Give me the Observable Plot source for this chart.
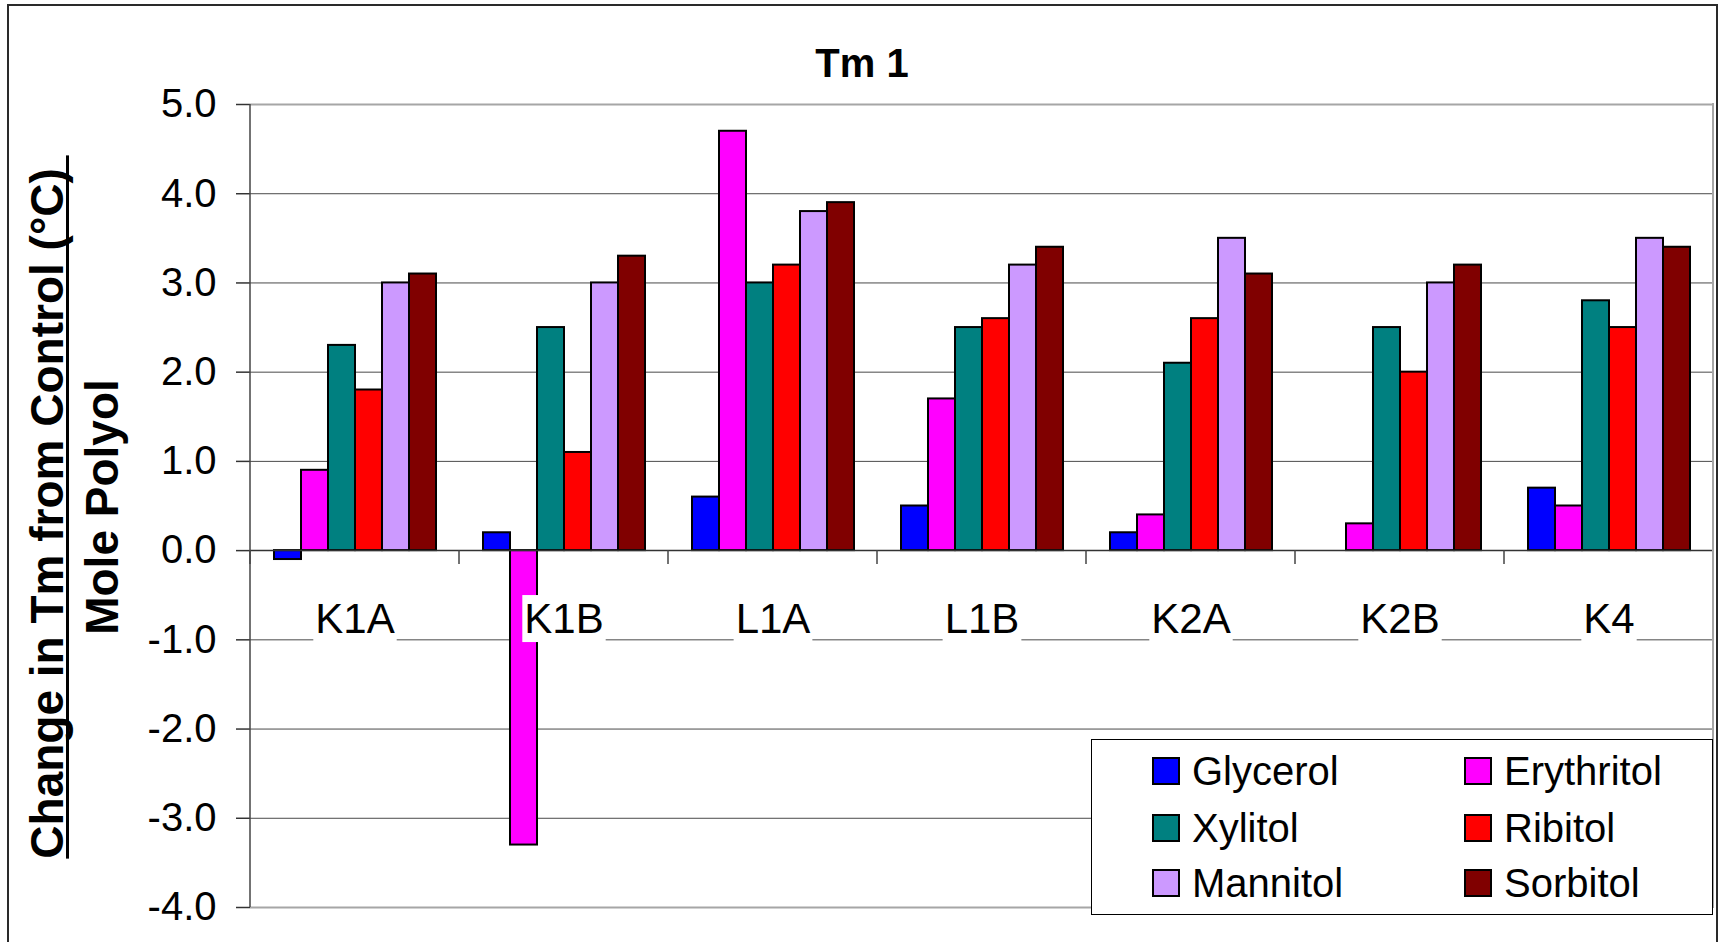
<!DOCTYPE html>
<html>
<head>
<meta charset="utf-8">
<script src="https://cdn.jsdelivr.net/npm/d3@7"></script>
<script src="https://cdn.jsdelivr.net/npm/@observablehq/plot@0.6"></script>
<style>
  html, body { margin: 0; padding: 0; background: #fff; overflow: hidden; width: 1719px; height: 942px; }
  #root { position: relative; width: 1719px; height: 942px; font-family: "Liberation Sans", Arial, sans-serif; color: #000; }
  #chart { position: absolute; left: 0; top: 0; }
  #frame { position: absolute; left: 7px; top: 4px; width: 1711px; height: 1000px; border: 2px solid #2a2a2a; box-sizing: border-box; pointer-events: none; }
  #title { position: absolute; left: 862px; top: 43px; transform: translateX(-50%); font-weight: bold; font-size: 40px; line-height: 40px; white-space: nowrap; }
  .ytitle { position: absolute; width: 900px; height: 46px; line-height: 46px; font-size: 46px; font-weight: bold; text-align: center; white-space: pre; transform: rotate(-90deg); }
  #yt1 { text-decoration: underline; text-decoration-skip-ink: none; text-decoration-thickness: 3px; text-underline-offset: 3px; }
  #legend { position: absolute; left: 1091px; top: 739px; width: 622px; height: 176px; border: 1px solid #000; background: #fff; box-sizing: border-box; }
  .sw { position: absolute; width: 28px; height: 28px; border: 2px solid #000; box-sizing: border-box; }
  .lab { position: absolute; font-size: 40px; line-height: 40px; white-space: nowrap; }
</style>
</head>
<body>
<div id="root">
  <div id="chart"></div>
  <div id="title">Tm 1</div>
  <div class="ytitle" id="yt1" style="left:-403px; top:484px;">Change in Tm from Control (°C) </div>
  <div class="ytitle" id="yt2" style="left:-348px; top:484px;">Mole Polyol</div>
  <div id="legend"></div>
  <div id="frame"></div>
</div>
<script>
// ---- data ----
const categories = ["K1A", "K1B", "L1A", "L1B", "K2A", "K2B", "K4"];
const series = ["Glycerol", "Erythritol", "Xylitol", "Ribitol", "Mannitol", "Sorbitol"];
const colors = ["#0000FF", "#FF00FF", "#008080", "#FF0000", "#CC99FF", "#800000"];
const glycerol   = [-0.1,  0.2, 0.6, 0.5, 0.2, 0.0, 0.7];
const erythritol = [ 0.9, -3.3, 4.7, 1.7, 0.4, 0.3, 0.5];
const xylitol    = [ 2.3,  2.5, 3.0, 2.5, 2.1, 2.5, 2.8];
const ribitol    = [ 1.8,  1.1, 3.2, 2.6, 2.6, 2.0, 2.5];
const mannitol   = [ 3.0,  3.0, 3.8, 3.2, 3.5, 3.0, 3.5];
const sorbitol   = [ 3.1,  3.3, 3.9, 3.4, 3.1, 3.2, 3.4];
const yTicks = [-4, -3, -2, -1, 0, 1, 2, 3, 4, 5];

const valuesBySeries = [glycerol, erythritol, xylitol, ribitol, mannitol, sorbitol];
const rows = categories.flatMap((c, i) =>
  series.map((s, j) => ({category: c, series: s, value: valuesBySeries[j][i]}))
);

const chart = Plot.plot({
  width: 1719,
  height: 942,
  marginTop: 104,
  marginBottom: 35,
  marginLeft: 250,
  marginRight: 6,
  style: {fontFamily: "Liberation Sans, Arial, sans-serif", background: "transparent", color: "#000"},
  fx: {domain: categories, padding: 0, axis: null, label: null},
  x: {domain: series, paddingInner: 0, paddingOuter: 0.75, axis: null, label: null},
  y: {domain: [-4, 5], axis: null},
  color: {domain: series, range: colors},
  marks: [
    Plot.ruleY(yTicks.filter(t => t > -4 && t < 5 && t !== 0), {stroke: "#4a4a4a", strokeWidth: 1}),
    Plot.ruleY([5, -4], {stroke: "#a6a6a6", strokeWidth: 2}),
    Plot.barY(rows.filter(d => d.value !== 0), {
      fx: "category", x: "series", y: "value", fill: "series",
      stroke: "#000", strokeWidth: 2
    }),
    Plot.ruleY([0], {stroke: "#333", strokeWidth: 1.5}),
    Plot.axisY({
      ticks: yTicks, tickFormat: d => d.toFixed(1), tickSize: 14, tickPadding: 20,
      fontSize: 40, stroke: "#333", strokeWidth: 1.5, label: null
    }),
    Plot.text(categories, {fx: d => d, text: d => d, y: 0, dy: 69, fontSize: 42, fill: "#000"})
  ]
});
document.getElementById("chart").appendChild(chart);

// ---- decorations derived from Plot's own scales ----
const svg = d3.select(chart);
const fx = chart.scale("fx");
const ys = chart.scale("y");
const bw = fx.bandwidth;
const left = fx.apply(categories[0]);
const right = fx.apply(categories[categories.length - 1]) + bw;
const y0 = ys.apply(0), yTop = ys.apply(5), yBot = ys.apply(-4);

// white boxes behind category labels
svg.selectAll("text").each(function() {
  if (categories.includes(this.textContent)) {
    const b = this.getBBox();
    const r = document.createElementNS("http://www.w3.org/2000/svg", "rect");
    r.setAttribute("x", b.x - 2);
    r.setAttribute("y", b.y);
    r.setAttribute("width", b.width + 4);
    r.setAttribute("height", b.height);
    r.setAttribute("fill", "#fff");
    r.setAttribute("stroke", "none");
    const t = this.getAttribute("transform");
    if (t) r.setAttribute("transform", t);
    this.parentNode.insertBefore(r, this);
  }
});

const deco = svg.append("g");
// category boundary ticks below zero line
categories.map(c => fx.apply(c)).concat([right]).forEach(x => {
  deco.append("line").attr("x1", x).attr("x2", x).attr("y1", y0).attr("y2", y0 + 14)
    .attr("stroke", "#444").attr("stroke-width", 1.5);
});
// left axis line
deco.append("line").attr("x1", left).attr("x2", left).attr("y1", yTop).attr("y2", yBot)
  .attr("stroke", "#444").attr("stroke-width", 1.5);
// right border of plot area
deco.append("line").attr("x1", right).attr("x2", right).attr("y1", yTop - 1).attr("y2", yBot + 1)
  .attr("stroke", "#a6a6a6").attr("stroke-width", 2);

// ---- legend ----
const legend = document.getElementById("legend");
const colX = [60, 372];      // swatch left within box
const rowY = [17, 74, 129];  // swatch top within box
series.forEach((s, i) => {
  const col = i % 2, row = Math.floor(i / 2);
  const sw = document.createElement("div");
  sw.className = "sw";
  sw.style.left = colX[col] + "px";
  sw.style.top = rowY[row] + "px";
  sw.style.background = colors[i];
  legend.appendChild(sw);
  const lab = document.createElement("div");
  lab.className = "lab";
  lab.style.left = (colX[col] + 40) + "px";
  lab.style.top = (rowY[row] - 6) + "px";
  lab.textContent = s;
  legend.appendChild(lab);
});
</script>
</body>
</html>
